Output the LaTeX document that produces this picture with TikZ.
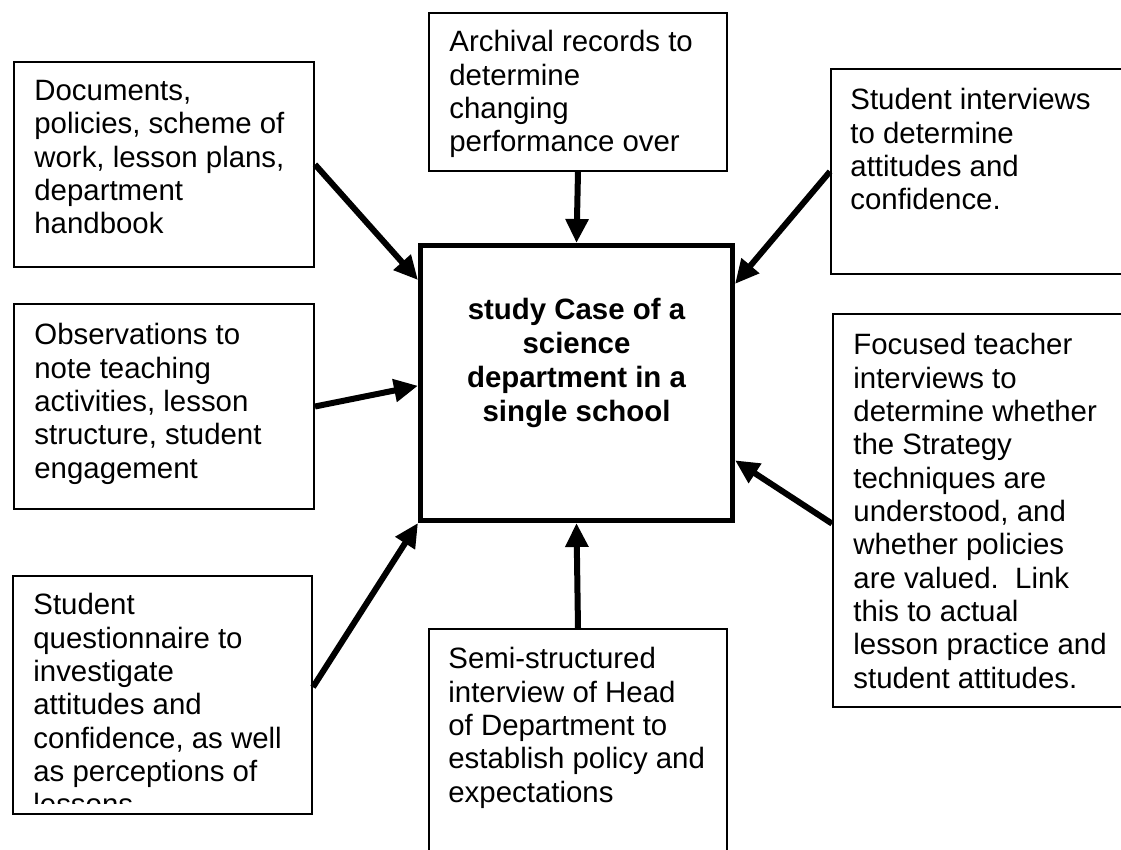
\documentclass[tikz,border=0pt]{standalone}
\usepackage{fontspec}
\setmainfont{Liberation Sans}
\usetikzlibrary{arrows.meta}
\tikzset{
    srcbox/.style args={#1 #2}{
        draw, line width=1pt, anchor=north west, inner sep=0pt,
        minimum width=#1, minimum height=#2
    },
    srctext/.style={
        anchor=north west, align=left, inner sep=0pt,
        font=\fontsize{14.7pt}{16.67pt}\selectfont
    },
    casebox/.style={
        draw, line width=2.5pt, anchor=north west, inner sep=0pt,
        minimum width=156pt, minimum height=137.5pt
    },
    casetext/.style={
        anchor=north, align=center, inner sep=0pt,
        font=\fontsize{14.7pt}{17pt}\selectfont\bfseries
    },
    feed/.style={line width=3pt, -{Triangle[length=12pt,width=11pt]}}
}

\begin{document}
\begin{tikzpicture}[x=0.5pt, y=-0.5pt]
    \useasboundingbox (0,0) rectangle (1121,850);
    \clip (0,0) rectangle (1121,850);
    \fill[white] (0,0) rectangle (1121,850);
    % the case
    \node[casebox] (case) at (418,243) {};
    \node[casetext] (case-t) at (576.5,298) {study Case of a\\science\\department in a\\single school};
    % sources of evidence
    \node[srcbox={150pt 102.5pt}] (docs) at (13,61) {};
    \node[srcbox={149pt 79pt}] (arch) at (428,12) {};
    \node[srcbox={150pt 102.5pt}] (stud) at (830,68) {};
    \node[srcbox={150pt 102.5pt}] (obs) at (13,303) {};
    \node[srcbox={149pt 196.5pt}] (focus) at (832,313) {};
    \node[srcbox={149.5pt 119pt}] (quest) at (12,575) {};
    \node[srcbox={149pt 136pt}] (semi) at (428,628) {};
    \node[srctext] (docs-t) at (34,80) {Documents,\\policies, scheme of\\work, lesson plans,\\department\\handbook};
    \node[srctext] (arch-t) at (449,30) {Archival records to\\determine\\changing\\performance over};
    \node[srctext] (stud-t) at (850,88) {Student interviews\\to determine\\attitudes and\\confidence.};
    \node[srctext] (obs-t) at (34,323) {Observations to\\note teaching\\activities, lesson\\structure, student\\engagement};
    \node[srctext] (focus-t) at (853,333) {Focused teacher\\interviews to\\determine whether\\the Strategy\\techniques are\\understood, and\\whether policies\\are valued.\ \ Link\\this to actual\\lesson practice and\\student attitudes.};
    \begin{scope}
        \clip (12,575) rectangle (311,803);
        \node[srctext] (quest-t) at (33,593) {Student\\questionnaire to\\investigate\\attitudes and\\confidence, as well\\as perceptions of\\lessons};
    \end{scope}
    \node[srctext] (semi-t) at (448,647) {Semi-structured\\interview of Head\\of Department to\\establish policy and\\expectations};
    % arrows into the case
    \draw[feed] (docs.east) -- (case.147);
    \draw[feed] (arch.south) -- (case.north);
    \draw[feed] (stud.west) -- (case.32);
    \draw[feed] (obs.east) -- (case.181);
    \draw[feed] (quest.3) -- (case.south west);
    \draw[feed] (focus.185) -- (case.334);
    \draw[feed] (semi.north) -- (case.south);
\end{tikzpicture}
\end{document}
